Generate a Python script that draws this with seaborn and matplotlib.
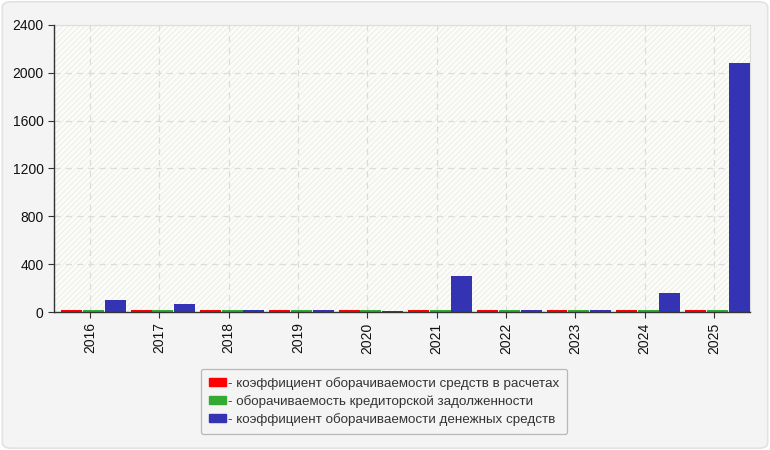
import numpy as np
import pandas as pd
import matplotlib
matplotlib.use("Agg")
import matplotlib.pyplot as plt
import seaborn as sns
from matplotlib.patches import FancyBboxPatch, Rectangle, Patch

years = ['2016', '2017', '2018', '2019', '2020', '2021', '2022', '2023', '2024', '2025']
receivables_turnover = [18, 18, 18, 18, 18, 18, 18, 18, 18, 18]
payables_turnover = [16, 16, 16, 16, 16, 16, 16, 16, 16, 16]
cash_turnover = [100, 67, 14, 14, 12, 301, 14, 14, 159, 2082]

series_names = [
    'коэффициент оборачиваемости средств в расчетах',
    'оборачиваемость кредиторской задолженности',
    'коэффициент оборачиваемости денежных средств',
]
colors = ['#ff0000', '#33aa33', '#3333b3']

df = pd.DataFrame({
    'year': years * 3,
    'value': receivables_turnover + payables_turnover + cash_turnover,
    'series': [series_names[0]] * 10 + [series_names[1]] * 10 + [series_names[2]] * 10,
})

sns.set_style('white')
plt.rcParams['font.family'] = ['Liberation Sans', 'DejaVu Sans']

fig = plt.figure(figsize=(7.7, 4.5), dpi=100)
fig.patch.set_facecolor('white')
fig.patches.append(FancyBboxPatch((0.003, 0.004), 0.994, 0.992,
                                  boxstyle='round,pad=0,rounding_size=0.012',
                                  transform=fig.transFigure, facecolor='#f4f4f4',
                                  edgecolor='#e2e2e2', linewidth=1.2, zorder=-10))

ax = fig.add_axes([54 / 770, 138 / 450, 696 / 770, 287 / 450])
ax.set_facecolor('#fdfdf8')
ax.add_patch(Rectangle((0, 0), 1, 1, transform=ax.transAxes, facecolor='#fdfdf8',
                       edgecolor='#efefef', hatch='//////', linewidth=0, zorder=0))

sns.barplot(data=df, x='year', y='value', hue='series', palette=colors,
            width=0.94, gap=0.04, saturation=1, ax=ax, legend=False, zorder=3,
            linewidth=0, edgecolor='none')

# ticks sit a little left of the bar groups in the original
ax.set_xticks(np.arange(len(years)) - 0.05, years)
ax.set_xlim(-0.57, 9.47)
ax.set_ylim(0, 2400)
ax.set_yticks(range(0, 2401, 400))
ax.set_xlabel('')
ax.set_ylabel('')
ax.grid(True, color='#dcdcdc', linestyle=(0, (5, 4)), linewidth=0.9, zorder=1)
ax.set_axisbelow(True)

for side in ['top', 'right']:
    ax.spines[side].set_color('#dddddd')
for side in ['left', 'bottom']:
    ax.spines[side].set_color('#333333')
    ax.spines[side].set_linewidth(1.0)
    ax.spines[side].set_zorder(5)

ax.tick_params(axis='both', which='both', length=4, color='#333333', labelsize=10,
               labelcolor='#111111', left=True, bottom=True)
ax.tick_params(axis='x', rotation=90)

handles = [Patch(facecolor=c, edgecolor=c, label='- ' + n) for c, n in zip(colors, series_names)]
leg = fig.legend(handles=handles, loc='upper center', bbox_to_anchor=(384 / 770, 1 - 362 / 450),
                 frameon=True, fontsize=9.6, handlelength=1.3, handleheight=0.6,
                 handletextpad=0.15, labelspacing=0.38, borderpad=0.6, fancybox=True)
leg.get_frame().set_facecolor('#f4f4f4')
leg.get_frame().set_edgecolor('#aaaaaa')
leg.get_frame().set_linewidth(0.9)
for t in leg.get_texts():
    t.set_color('#333333')

fig.savefig('out.png', dpi=100, facecolor=fig.get_facecolor())
